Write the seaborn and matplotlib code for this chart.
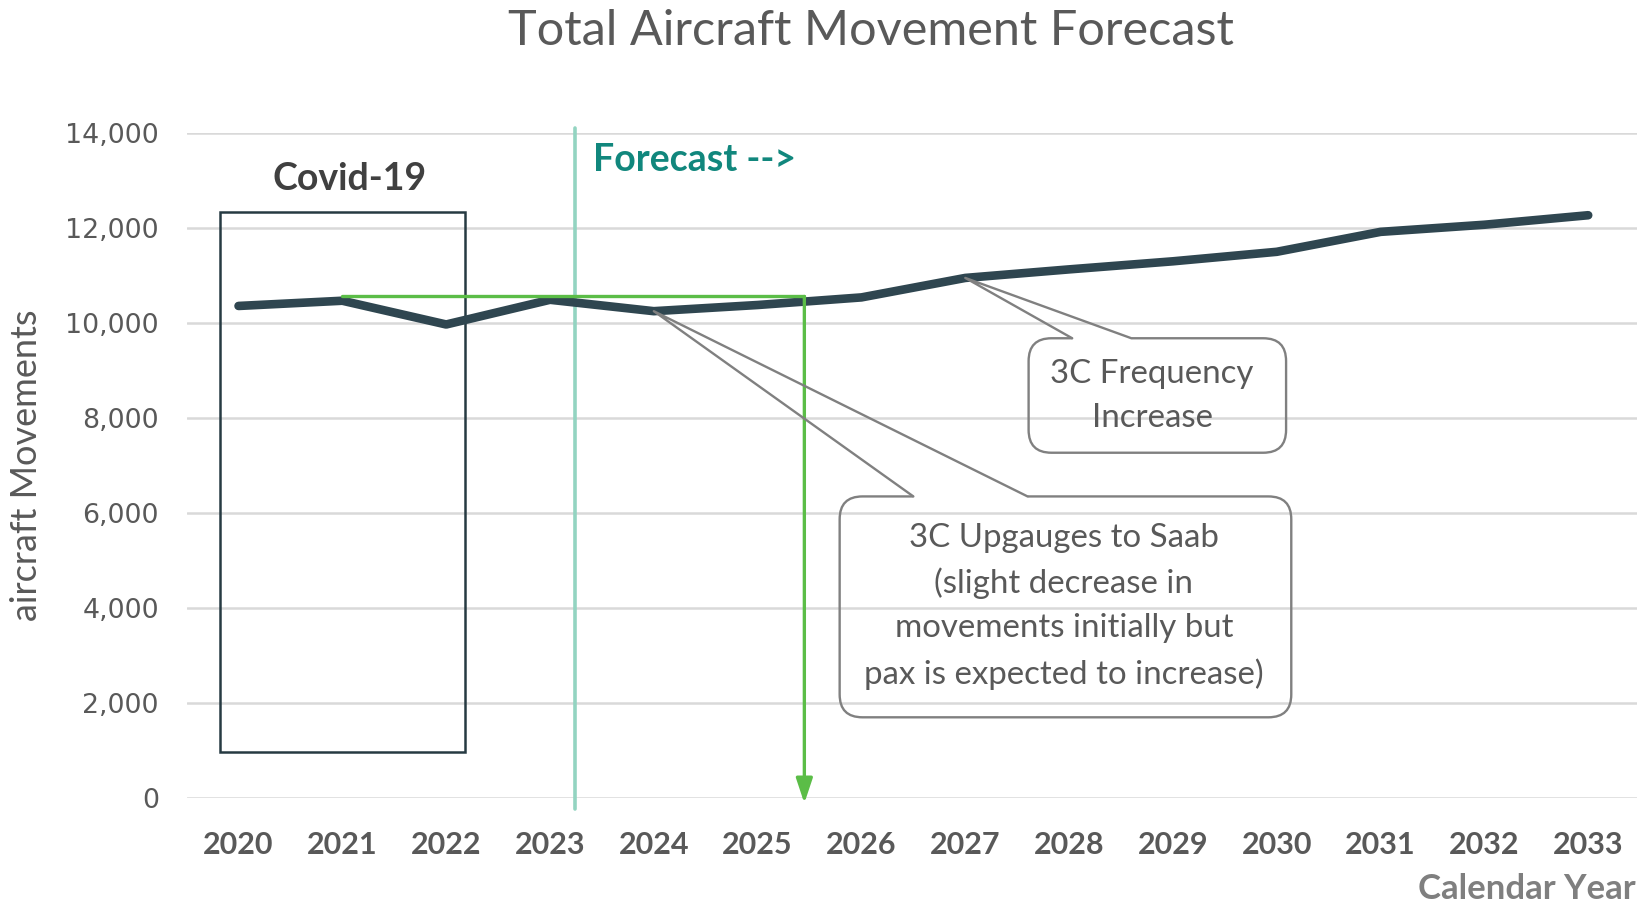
import matplotlib
matplotlib.use("Agg")
import matplotlib.pyplot as plt
import seaborn as sns
import pandas as pd
from matplotlib.patches import FancyBboxPatch, Rectangle
from matplotlib.ticker import FuncFormatter

# values
years = [2020, 2021, 2022, 2023, 2024, 2025, 2026, 2027, 2028, 2029, 2030, 2031, 2032, 2033]
movements = [10350, 10460, 9960, 10480, 10240, 10370, 10530, 10940, 11120, 11290, 11490, 11910, 12060, 12260]
y_ticks = [0, 2000, 4000, 6000, 8000, 10000, 12000, 14000]

forecast_start = 2023.24     # teal divider
baseline_level = 10550       # green reference level
baseline_from = 2021
baseline_to = 2025.45

df = pd.DataFrame({"year": years, "movements": movements})

sns.set_style("white")
plt.rcParams["font.family"] = ["Lato", "DejaVu Sans"]

fig = plt.figure(figsize=(16.37, 9.05), dpi=100)
ax = fig.add_axes([0.114, 0.1187, 0.886, 0.7348])

gray_txt = "#595959"
call_gray = "#808080"
green = "#5bbd47"

sns.lineplot(data=df, x="year", y="movements", ax=ax, color="#2f4650", lw=6.2,
             solid_capstyle="round", solid_joinstyle="round", zorder=4)

ax.set_xlim(2019.5, 2033.47)
ax.set_ylim(0, 14000)
ax.set_xticks(years)
ax.set_xticklabels([str(y) for y in years], fontsize=22, fontweight="bold", color=gray_txt)
ax.set_yticks(y_ticks)
ax.yaxis.set_major_formatter(FuncFormatter(lambda v, p: f"{int(v):,}"))
ax.tick_params(axis="y", length=0, pad=20, labelsize=19.3, labelcolor=gray_txt,
               labelfontfamily="DejaVu Sans")
ax.tick_params(axis="x", length=0, pad=24)
ax.yaxis.grid(True, color="#d9d9d9", lw=1.8)
ax.xaxis.grid(False)
ax.set_axisbelow(True)
sns.despine(ax=ax, left=True, bottom=True)
ax.set_xlabel("")
ax.set_ylabel("")

# forecast divider
ax.plot([forecast_start, forecast_start], [-240, 14090], color="#93d4c1", lw=2.6,
        clip_on=False, zorder=3)
ax.text(2023.41, 13420, "Forecast -->", color="#11877d", fontsize=27, fontweight="bold",
        ha="left", va="center")

# green reference line + arrow
ax.plot([baseline_from, baseline_to], [baseline_level, baseline_level], color=green, lw=2.4, zorder=5)
ax.annotate("", xy=(baseline_to, -120), xytext=(baseline_to, baseline_level),
            arrowprops=dict(arrowstyle="-|>,head_length=1.5,head_width=0.5", color=green,
                            lw=2.4, shrinkA=0, shrinkB=0), zorder=5, annotation_clip=False)

# covid box
ax.add_patch(Rectangle((2019.82, 965), 2.36, 11355, fill=False, ec="#263a42", lw=1.8, zorder=3))
ax.text(2021.07, 13030, "Covid-19", color="#404040", fontsize=27, fontweight="bold",
        ha="center", va="center")

# callouts
aspect = (14000 / (0.7348 * 905)) / (13.97 / (0.886 * 1637))


def callout(x0, x1, y0, y1, tip, base, text, center):
    box = FancyBboxPatch((x0, y0), x1 - x0, y1 - y0, boxstyle="round,pad=0,rounding_size=0.22",
                         mutation_aspect=aspect, fill=False, ec=call_gray, lw=1.7, zorder=6)
    ax.add_patch(box)
    ax.plot([base[0] + 0.02, base[1] - 0.02], [y1, y1], color="white", lw=3.5, zorder=7)
    ax.plot([base[0], tip[0], base[1]], [y1, tip[1], y1], color=call_gray, lw=1.7, zorder=8)
    ax.text(center[0], center[1], text, color=gray_txt, fontsize=23.8, ha="center", va="center",
            linespacing=1.58, zorder=9)


callout(2027.61, 2030.09, 7260, 9670, (2027, movements[7]), (2028.03, 2028.60),
        "3C Frequency\nIncrease", (2028.80, 8450))
callout(2025.79, 2030.14, 1690, 6340, (2024, movements[4]), (2026.50, 2027.60),
        "3C Upgauges to Saab\n(slight decrease in\nmovements initially but\npax is expected to increase)",
        (2027.95, 4030))

fig.text(0.532, 0.966, "Total Aircraft Movement Forecast", fontsize=35, color=gray_txt,
         ha="center", va="center")
fig.text(0.0159, 0.486, "aircraft Movements", fontsize=26, color=gray_txt, rotation=90,
         ha="center", va="center")
fig.text(0.999, 0.0177, "Calendar Year", fontsize=25, fontweight="bold", color="#7f7f7f",
         ha="right", va="center")

fig.savefig("out.png", dpi=100)
